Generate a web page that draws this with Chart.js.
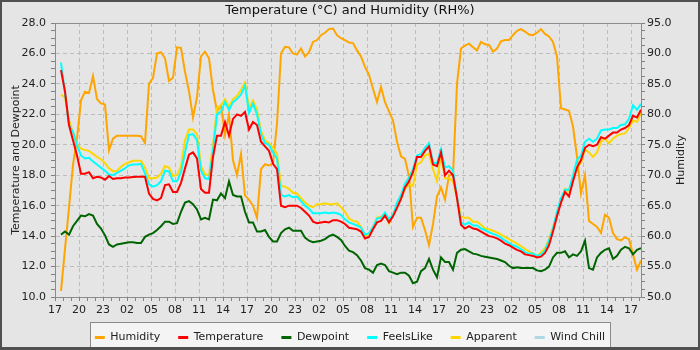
<!DOCTYPE html>
<html>
<head>
<meta charset="utf-8">
<title>Temperature and Humidity</title>
<script src="https://cdn.jsdelivr.net/npm/chart.js@4.4.0/dist/chart.umd.min.js"></script>
<style>
  html, body { margin: 0; padding: 0; background: #e5e5e5; }
  #wrap { width: 700px; height: 350px; }
</style>
</head>
<body>
<div id="wrap"><canvas id="lineChart" width="700" height="350"></canvas></div>
<script>
// x axis: hours after the first 17:00, one label every 3 hours
var hourLabels = ['17', '20', '23', '02', '05', '08', '11', '14', '17', '20', '23', '02', '05',
                  '08', '11', '14', '17', '20', '23', '02', '05', '08', '11', '14', '17'];
var FIRST_HOUR = 0.75;
var STEP_HOURS = 0.5;

var humidity = [
  51.0, 57.9, 64.7, 71.7, 76.0, 82.3, 83.7, 83.5, 86.3, 82.5, 81.8, 81.6, 74.1, 76.0, 76.5, 76.5, 76.5, 76.5, 76.5, 76.5, 76.4, 75.3, 85.0,
  86.0, 90.0, 90.2, 89.2, 85.5, 86.0, 91.0, 90.9, 87.0, 83.8, 79.5, 82.8, 89.5, 90.3, 89.2, 84.0, 80.5, 81.5, 76.6, 80.0, 72.5, 70.0, 73.5, 66.7, 66.0,
  65.0, 63.0, 71.0, 71.8, 71.6, 72.0, 78.5, 90.0, 91.1, 91.0, 90.0, 89.8, 90.8, 89.5, 90.2, 91.9, 92.2, 93.0, 93.4, 94.0, 94.1, 93.0, 92.5,
  92.2, 91.8, 91.7, 90.5, 89.5, 87.8, 86.5, 84.2, 82.0, 84.5, 82.0, 80.5, 79.0, 75.5, 73.1, 72.7, 69.8, 61.5, 63.0, 63.0, 61.0, 58.5, 62.0,
  66.5, 68.0, 66.0, 70.0, 70.0, 85.0, 90.8, 91.3, 91.6, 91.0, 90.5, 91.9, 91.5, 91.4, 90.3, 90.8, 92.0, 92.2, 92.2, 93.0, 93.7, 94.0, 93.6, 93.1,
  93.0, 93.4, 94.0, 93.2, 92.8, 91.9, 89.5, 81.0, 80.8, 80.6, 78.0, 73.0, 67.0, 70.0, 62.5, 62.0, 61.5, 60.5, 63.5, 63.0, 60.5, 59.5, 59.3, 59.8, 59.5, 57.0, 54.5, 56.0
];

var temperature = [
  24.9, 23.5, 21.3, 20.3, 19.3, 18.1, 18.1, 18.2, 17.8, 17.9, 17.85, 17.7, 17.95, 17.75, 17.8, 17.8, 17.85, 17.85, 17.88, 17.9, 17.9, 17.9, 16.8,
  16.45, 16.35, 16.5, 17.35, 17.4, 16.9, 16.9, 17.5, 18.45, 19.35, 19.5, 19.1, 17.1, 16.85, 16.85, 19.2, 20.6, 20.6, 21.5, 20.6, 21.7, 22.0, 21.9, 22.15, 21.0,
  21.5, 21.3, 20.2, 19.9, 19.6, 18.75, 18.4, 16.0, 15.9, 16.0, 16.0, 16.0, 15.85, 15.6, 15.35, 14.95, 14.85, 14.9, 14.95, 14.9, 15.05, 15.05, 14.95,
  14.8, 14.55, 14.5, 14.45, 14.3, 13.85, 13.95, 14.45, 14.9, 15.0, 15.35, 14.9, 15.3, 15.85, 16.45, 17.2, 17.6, 18.2, 19.2, 19.2, 19.6, 19.9, 18.7,
  18.6, 19.5, 18.0, 18.3, 18.0, 16.5, 14.75, 14.5, 14.65, 14.5, 14.45, 14.3, 14.15, 14.0, 13.95, 13.85, 13.7, 13.5, 13.4, 13.25, 13.1, 13.0, 12.8, 12.75,
  12.7, 12.6, 12.65, 12.9, 13.4, 14.3, 15.3, 16.2, 16.9, 16.6, 17.6, 18.5, 19.0, 19.8, 20.0, 19.9, 20.0, 20.5, 20.4, 20.6, 20.8, 20.8, 21.0, 21.1, 21.3, 21.9, 21.8, 22.3
];

var dewpoint = [
  14.1, 14.3, 14.1, 14.65, 15.0, 15.35, 15.3, 15.45, 15.35, 14.8, 14.5, 14.05, 13.45, 13.3, 13.45, 13.5, 13.55, 13.6, 13.6, 13.55, 13.55, 13.95, 14.1,
  14.2, 14.4, 14.65, 14.95, 14.95, 14.8, 14.85, 15.6, 16.2, 16.3, 16.1, 15.75, 15.1, 15.2, 15.1, 16.4, 16.35, 16.8, 16.5, 17.6, 16.7, 16.6, 16.6, 15.6, 14.9,
  14.9, 14.3, 14.3, 14.4, 13.95, 13.65, 13.65, 14.2, 14.45, 14.55, 14.35, 14.35, 14.35, 13.9, 13.7, 13.6, 13.65, 13.7, 13.8, 14.0, 14.1, 13.95, 13.75,
  13.35, 13.05, 12.95, 12.75, 12.4, 11.9, 11.8, 11.6, 12.1, 12.2, 12.1, 11.7, 11.6, 11.5, 11.6, 11.6, 11.4, 10.9, 11.0, 11.7, 11.9, 12.5, 11.8,
  11.3, 12.6, 12.3, 12.3, 11.8, 12.9, 13.1, 13.15, 13.0, 12.85, 12.8, 12.7, 12.65, 12.6, 12.55, 12.5, 12.4, 12.3, 12.05, 11.9, 11.95, 11.9, 11.9, 11.9,
  11.9, 11.75, 11.7, 11.8, 12.0, 12.6, 12.9, 12.9, 13.0, 12.6, 12.8, 12.7, 13.0, 13.7, 11.9, 11.8, 12.6, 12.9, 13.1, 13.2, 12.5, 12.7, 13.1, 13.3, 13.2, 12.8, 13.1, 13.2
];

var feelsLike = [
  25.4, 23.4, 21.3, 20.85, 19.95, 19.3, 19.1, 19.15, 18.9, 18.7, 18.5, 18.3, 18.05, 18.0, 18.15, 18.3, 18.45, 18.65, 18.7, 18.7, 18.75, 18.1, 17.4,
  17.25, 17.35, 17.6, 18.3, 18.25, 17.6, 17.6, 18.2, 19.5, 20.65, 20.7, 20.3, 18.3, 17.8, 17.75, 19.6, 22.0, 22.2, 22.8, 22.3, 22.8, 23.0, 23.3, 23.9, 22.1,
  22.7, 22.0, 20.7, 20.1, 20.0, 19.5, 19.1, 16.7, 16.6, 16.7, 16.55, 16.6, 16.3, 16.0, 15.8, 15.5, 15.5, 15.5, 15.55, 15.5, 15.55, 15.5, 15.4,
  15.1, 14.9, 14.8, 14.7, 14.55, 14.1, 14.2, 14.6, 15.15, 15.2, 15.55, 15.1, 15.4, 16.2, 16.7, 17.45, 17.85, 18.4, 19.3, 19.4, 19.8, 20.1, 18.8,
  18.8, 19.7, 18.5, 18.6, 18.3, 16.6, 14.9, 14.75, 14.9, 14.7, 14.7, 14.5, 14.4, 14.25, 14.15, 14.05, 13.9, 13.7, 13.55, 13.4, 13.3, 13.15, 12.95, 12.85,
  12.85, 12.7, 12.8, 13.05, 13.7, 14.5, 15.6, 16.5, 17.05, 17.05, 18.0, 19.0, 19.3, 20.2, 20.4, 20.2, 20.4, 20.95, 21.0, 21.0, 21.1, 21.1, 21.3, 21.35, 21.7, 22.6, 22.3, 22.7
];

var apparent = [
  23.3, 23.1, 21.6, 20.8, 20.0, 19.75, 19.65, 19.6, 19.4, 19.2, 19.05, 18.8, 18.45, 18.25, 18.3, 18.55, 18.75, 18.85, 18.95, 18.95, 18.95, 18.5, 17.8,
  17.8, 17.85, 18.1, 18.6, 18.5, 17.95, 18.0, 18.6, 20.3, 21.0, 21.0, 20.7, 18.6, 18.05, 18.0, 20.0, 22.4, 22.6, 23.0, 22.5, 23.0, 23.2, 23.6, 24.1, 22.4,
  22.9, 22.3, 20.9, 20.3, 20.1, 19.8, 19.4, 17.3, 17.25, 17.1, 16.85, 16.8, 16.5, 16.2, 16.0, 15.9, 16.1, 16.1, 16.15, 16.1, 16.1, 16.15, 15.9,
  15.6, 15.15, 15.0, 14.95, 14.6, 14.0, 14.15, 14.6, 15.2, 15.3, 15.4, 14.85, 15.4, 15.95, 16.45, 17.1, 17.4, 17.3, 18.7, 18.85, 19.3, 19.4, 18.4,
  17.6, 19.3, 17.8, 17.8, 17.6, 16.5, 15.3, 15.2, 15.2, 14.95, 14.95, 14.75, 14.5, 14.45, 14.35, 14.25, 14.1, 13.95, 13.8, 13.65, 13.5, 13.35, 13.15, 13.0,
  12.85, 12.65, 12.95, 13.2, 13.8, 14.6, 15.5, 16.3, 17.1, 16.9, 17.8, 18.6, 18.8, 19.7, 19.5, 19.2, 19.5, 20.2, 20.4, 20.1, 20.4, 20.6, 20.7, 20.75, 21.1, 21.6, 21.5, 22.1
];

// no wind chill readings in this period, it only shows in the legend
var windChill = [];

var BG = '#e5e5e5';
var GRID = '#bdbdbd';
var AXIS = '#8c8c8c';

var TempChart = {
  init: function () {
    Chart.defaults.font.family = "'DejaVu Sans', sans-serif";
    Chart.defaults.font.size = 11;
    Chart.defaults.color = '#222';
    TempChart.renderChart();
  },

  toPoints: function (values) {
    return values.map(function (v, i) {
      return {x: FIRST_HOUR + i * STEP_HOURS, y: v};
    });
  },

  line: function (label, values, color, axis, order) {
    return {
      label: label,
      data: TempChart.toPoints(values),
      yAxisID: axis,
      borderColor: color,
      backgroundColor: color,
      borderWidth: 2,
      pointRadius: 0,
      fill: false,
      tension: 0,
      order: order,
    };
  },

  framePlugin: {
    id: 'frame',
    beforeDraw: function (chart) {
      var ctx = chart.ctx;
      ctx.save();
      ctx.fillStyle = BG;
      ctx.fillRect(0, 0, chart.width, chart.height);
      var boxes = chart.legend.legendHitBoxes;
      if (boxes && boxes.length) {
        var first = boxes[0], last = boxes[boxes.length - 1];
        var x1 = Math.round(first.left - 5) + 0.5;
        var x2 = Math.round(last.left + last.width + 5) + 0.5;
        var y1 = Math.round(first.top - 10) + 0.5;
        var y2 = chart.height - 2.5;
        ctx.fillStyle = '#f4f4f4';
        ctx.fillRect(x1, y1, x2 - x1, y2 - y1);
        ctx.strokeStyle = '#8a8a8a';
        ctx.lineWidth = 1;
        ctx.strokeRect(x1, y1, x2 - x1, y2 - y1);
      }
      ctx.restore();
    },
    afterDraw: function (chart) {
      var ctx = chart.ctx, a = chart.chartArea;
      ctx.save();
      ctx.strokeStyle = AXIS;
      ctx.lineWidth = 1;
      ctx.beginPath();
      ctx.moveTo(a.left, a.top + 0.5);
      ctx.lineTo(a.right, a.top + 0.5);
      ctx.stroke();
      // right axis title reads bottom to top, like the left one
      ctx.translate(681, (a.top + a.bottom) / 2);
      ctx.rotate(-Math.PI / 2);
      ctx.fillStyle = '#222';
      ctx.font = "11px 'DejaVu Sans'";
      ctx.textAlign = 'center';
      ctx.textBaseline = 'middle';
      ctx.fillText('Humidity', 0, 0);
      ctx.restore();

      ctx.save();
      ctx.strokeStyle = '#505050';
      ctx.lineWidth = 2;
      ctx.strokeRect(1, 1, chart.width - 2, chart.height - 2);
      ctx.fillStyle = '#505050';
      ctx.fillRect(0, chart.height - 3, chart.width, 3);
      ctx.restore();
    }
  },

  renderChart: function () {
    var ctx = document.getElementById('lineChart');
    var majorGrid = function (every) {
      return function (c) {
        return c.tick && Math.abs(c.tick.value % every) < 1e-9 ? GRID : 'rgba(0,0,0,0)';
      };
    };

    new Chart(ctx, {
      type: 'line',
      data: {
        datasets: [
          TempChart.line('Humidity', humidity, '#ffa500', 'yHum', 5),
          TempChart.line('Temperature', temperature, '#ff0000', 'y', 0),
          TempChart.line('Dewpoint', dewpoint, '#006400', 'y', 1),
          TempChart.line('FeelsLike', feelsLike, '#00ffff', 'y', 2),
          TempChart.line('Apparent', apparent, '#ffd700', 'y', 3),
          TempChart.line('Wind Chill', windChill, '#add8e6', 'y', 4),
        ]
      },
      plugins: [TempChart.framePlugin],
      options: {
        responsive: false,
        animation: false,
        devicePixelRatio: 1,
        events: [],
        layout: {padding: {top: 0, left: 0, right: 0, bottom: -3}},
        plugins: {
          title: {
            display: true,
            text: 'Temperature (°C) and Humidity (RH%)',
            color: '#111',
            font: {size: 13, weight: 'normal', lineHeight: 1.2},
            padding: {top: 3, bottom: 4.4},
          },
          legend: {
            display: true,
            position: 'bottom',
            labels: {
              boxWidth: 10,
              boxHeight: 3,
              padding: 18,
              color: '#222',
              font: {size: 11},
              sort: function (a, b) { return a.datasetIndex - b.datasetIndex; },
              generateLabels: function (chart) {
                return Chart.defaults.plugins.legend.labels.generateLabels(chart).map(function (item) {
                  item.lineWidth = 0;
                  return item;
                });
              }
            }
          },
          tooltip: {enabled: false},
        },
        scales: {
          x: {
            type: 'linear',
            min: 0,
            max: 73.25,
            afterFit: function (s) { s.height = 17; },
            ticks: {
              stepSize: 1,
              autoSkip: false,
              maxRotation: 0,
              includeBounds: false,
              padding: 3,
              color: '#222',
              callback: function (v) { return v % 3 === 0 ? hourLabels[v / 3] : ''; }
            },
            grid: {color: majorGrid(3), tickColor: '#808080', tickLength: 4},
            border: {color: AXIS, dash: [4, 3]},
          },
          y: {
            position: 'left',
            min: 10,
            max: 28,
            afterFit: function (s) { s.width = 55; },
            ticks: {
              stepSize: 0.5,
              autoSkip: false,
              padding: 5,
              color: '#222',
              callback: function (v) { return v % 2 === 0 ? v.toFixed(1) : ''; }
            },
            grid: {color: majorGrid(2), tickColor: '#808080', tickLength: 4},
            border: {color: AXIS, dash: [4, 3]},
            title: {
              display: true,
              text: 'Temperature and Dewpoint',
              color: '#222',
              font: {size: 11},
              padding: {top: 10, bottom: 0},
            },
          },
          yHum: {
            position: 'right',
            min: 50,
            max: 95,
            afterFit: function (s) { s.width = 59; },
            ticks: {
              stepSize: 1.25,
              autoSkip: false,
              padding: 2,
              color: '#222',
              callback: function (v) { return v % 5 === 0 ? v.toFixed(1) : ''; }
            },
            grid: {drawOnChartArea: false, tickColor: '#808080', tickLength: 4},
            border: {color: AXIS},
          }
        },
      }
    });
  },
};

TempChart.init();
</script>
</body>
</html>
